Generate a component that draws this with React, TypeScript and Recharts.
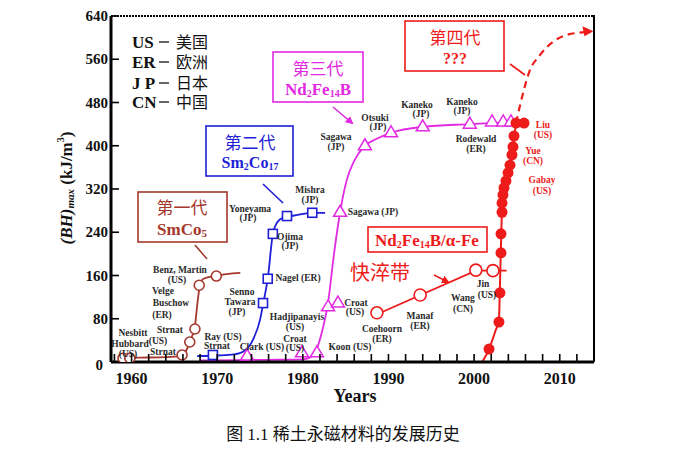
import { ComposedChart, Line, Scatter, XAxis, YAxis } from 'recharts';

// ---- data (year, (BH)max kJ/m3) ----
const smco5MarkYears = [1959.0, 1959.8, 1965.9, 1966.8, 1967.4, 1967.9, 1969.9];
const smco5MarkValues = [7, 7, 13, 37, 61, 142, 159];
const smco5CurveYears = [1958.6, 1961, 1964, 1965.9, 1966.5, 1967.0, 1967.4, 1967.7, 1968.0, 1968.4, 1969.9, 1972.7];
const smco5CurveValues = [7, 8, 9, 12, 25, 45, 66, 110, 143, 154, 160, 165];

const sm2co17MarkYears = [1969.5, 1975.35, 1975.9, 1976.5, 1978.15, 1981.1];
const sm2co17MarkValues = [13, 109, 154, 237, 270, 276];
const sm2co17CurveYears = [1967.65, 1970, 1972, 1973.3, 1974.2, 1975.0, 1975.4, 1975.9, 1976.5, 1977.0, 1977.7, 1979, 1981.1, 1982.6];
const sm2co17CurveValues = [11, 12, 14, 22, 42, 78, 110, 154, 237, 258, 267, 271, 276, 276];

const ndfebMarkYears = [1973.5, 1979.9, 1981.65, 1982.95, 1984.1, 1984.35, 1987.25, 1990.3, 1994.0, 1999.5, 2002.1, 2003.4, 2004.3];
const ndfebMarkValues = [11, 17, 17, 102, 109, 277, 400, 424, 435, 440, 444, 444, 444];
const ndfebCurveYears = [1968, 1976, 1980, 1980.8, 1981.65, 1982.3, 1982.95, 1983.6, 1984.35, 1985.1, 1986, 1987.25, 1988.5, 1990.3, 1994, 1999.5, 2004.5];
const ndfebCurveValues = [3, 4, 5, 8, 25, 60, 110, 195, 277, 335, 372, 400, 412, 424, 435, 440, 444];

const ribbonMarkYears = [1988.65, 1993.7, 2000.2, 2002.2];
const ribbonMarkValues = [91, 124, 170, 169];
const ribbonLineYears = [1988.2, 2000.2, 2003.8];
const ribbonLineValues = [85, 169, 169];

const bulkDotYears = [2001.74, 2002.9, 2003.02, 2003.14, 2003.14, 2003.26, 2003.26, 2003.37, 2003.49, 2003.72, 2003.96, 2004.19, 2004.42, 2004.54, 2004.66, 2004.89, 2005.83];
const bulkDotValues = [24, 74, 128, 202, 237, 277, 294, 309, 322, 335, 350, 364, 383, 398, 418, 442, 442];
const bulkCurveYears = [2000.95, 2001.74, 2002.5, 2002.9, 2003.0, 2003.12, 2003.25, 2003.4, 2003.72, 2004.19, 2004.55, 2004.89];
const bulkCurveValues = [0, 24, 58, 78, 130, 205, 280, 312, 335, 364, 398, 442];

const futureYears = [2004.89, 2005.6, 2006.4, 2007.7, 2009.2, 2010.8, 2013.0];
const futureValues = [442, 490, 535, 568, 592, 605, 610];

const xTicks = [1958, 1960, 1962, 1964, 1966, 1968, 1970, 1972, 1974, 1976, 1978, 1980, 1982, 1984, 1986, 1988, 1990, 1992, 1994, 1996, 1998, 2000, 2002, 2004, 2006, 2008, 2010, 2012];
const yTicks = [0, 80, 160, 240, 320, 400, 480, 560, 640];

const zip = (xs: number[], ys: number[]) => xs.map((x, i) => ({ x, y: ys[i] }));

const BROWN = '#a5382c';
const BLUE = '#1f1fd6';
const MAGENTA = '#e22ae2';
const RED = '#ee1b1b';
const SERIF = '"Liberation Serif", "Times New Roman", serif';
const CJK = '"Liberation Serif", "Noto Sans CJK SC", serif';

// point labels (pixel positions in the picture)
const blackLabels: [string, number, number][] = [
  ['Nesbitt', 133, 333], ['Hubbard', 130, 344], ['(US)', 158, 341], ['(US)', 128, 354],
  ['Strnat', 170, 330], ['Strnat', 163, 352],
  ['Velge', 163, 291], ['Buschow', 171, 303], ['(ER)', 162, 315],
  ['Benz, Martin', 180, 270], ['(US)', 177, 280],
  ['Ray (US)', 223, 337], ['Strnat', 217, 346],
  ['Senno', 242, 292], ['Tawara', 240, 302], ['(JP)', 237, 312],
  ['Clark (US)', 262, 347],
  ['Yoneyama', 250, 209], ['(JP)', 248, 218],
  ['Ojima', 290, 237], ['(JP)', 290, 246],
  ['Nagel (ER)', 298, 278],
  ['Hadjipanayis', 297, 317], ['(US)', 295, 327], ['Croat', 295, 339], ['(US)', 295, 348],
  ['Mishra', 310, 190], ['(JP)', 310, 200],
  ['Sagawa (JP)', 373, 212],
  ['Croat', 356, 303], ['(US)', 355, 312],
  ['Koon (US)', 350, 347],
  ['Coehoorn', 382, 329], ['(ER)', 382, 339],
  ['Manaf', 420, 316], ['(ER)', 420, 326],
  ['Wang', 463, 298], ['(CN)', 463, 309],
  ['Jin', 483, 284], ['(US)', 487, 295],
  ['Sagawa', 336, 137], ['(JP)', 336, 147],
  ['Otsuki', 375, 118], ['(JP)', 378, 127],
  ['Kaneko', 417, 105], ['(JP)', 421, 114],
  ['Kaneko', 462, 102], ['(JP)', 462, 111],
  ['Rodewald', 476, 139], ['(ER)', 476, 149],
];
const redLabels: [string, number, number][] = [
  ['Liu', 543, 125], ['(US)', 543, 135],
  ['Yue', 533, 151], ['(CN)', 533, 161],
  ['Gabay', 542, 180], ['(US)', 542, 191],
];
const countryCodes = [['US', '美国'], ['ER', '欧洲'], ['J P', '日本'], ['CN', '中国']];

const XTick = (p: any) => (
  <g>
    <line x1={p.x} x2={p.x} y1={p.y} y2={p.y - 8} stroke="#000" strokeWidth={1.6} />
    {p.payload.value % 10 === 0 && (
      <text x={p.x} y={p.y + 22} textAnchor="middle" fontFamily={SERIF} fontWeight="bold" fontSize={16} fill="#111">
        {p.payload.value}
      </text>
    )}
  </g>
);

const YTick = (p: any) => (
  <g>
    {p.payload.value !== 0 && <line x1={p.x} x2={p.x + 8} y1={p.y} y2={p.y} stroke="#000" strokeWidth={1.6} />}
    <text x={p.payload.value === 0 ? p.x - 8 : p.x - 3} y={p.y + (p.payload.value === 0 ? 3 : 0)} textAnchor="end" dominantBaseline="central" fontFamily={SERIF} fontWeight="bold" fontSize={15} fill="#111">
      {p.payload.value}
    </text>
  </g>
);

const OpenCircle = (color: string, r: number) => (p: any) => (
  <circle cx={p.cx} cy={p.cy} r={r} fill="#fff" stroke={color} strokeWidth={1.6} />
);
const OpenSquare = (p: any) => (
  <rect x={p.cx - 4.5} y={p.cy - 4.5} width={9} height={9} fill="#fff" stroke={BLUE} strokeWidth={1.6} />
);
const OpenTriangle = (p: any) => (
  <polygon points={`${p.cx},${p.cy - 7} ${p.cx + 6.5},${p.cy + 4} ${p.cx - 6.5},${p.cy + 4}`} fill="#fff" stroke={MAGENTA} strokeWidth={1.5} />
);
const FilledDot = (p: any) => <circle cx={p.cx} cy={p.cy} r={5.5} fill={RED} />;
const ArrowHead = (p: any) => (
  <polygon points={`${p.cx + 8},${p.cy - 1} ${p.cx - 3},${p.cy - 6} ${p.cx - 1},${p.cy + 4}`} fill={RED} />
);

export default function App() {
  return (
    <div style={{ position: 'absolute', left: 0, top: 0, width: 698, height: 457, background: '#fff' }}>
      <ComposedChart width={698} height={457} margin={{ top: 16, right: 104, bottom: 65, left: 51 }}>
        <XAxis
          type="number"
          dataKey="x"
          domain={[1957.6, 2014]}
          allowDataOverflow
          ticks={xTicks}
          interval={0}
          tickSize={0}
          tickMargin={0}
          tickLine={false}
          tick={XTick}
          axisLine={{ stroke: '#000', strokeWidth: 3 }}
        />
        <YAxis
          type="number"
          dataKey="y"
          domain={[0, 640]}
          allowDataOverflow
          ticks={yTicks}
          interval={0}
          tickSize={0}
          tickMargin={0}
          tickLine={false}
          tick={YTick}
          axisLine={{ stroke: '#000', strokeWidth: 3 }}
        />
        <Line data={zip(smco5CurveYears, smco5CurveValues)} dataKey="y" type="monotone" stroke={BROWN} strokeWidth={1.8} dot={false} isAnimationActive={false} />
        <Line data={zip(sm2co17CurveYears, sm2co17CurveValues)} dataKey="y" type="monotone" stroke={BLUE} strokeWidth={1.8} dot={false} isAnimationActive={false} />
        <Line data={zip(ndfebCurveYears, ndfebCurveValues)} dataKey="y" type="monotone" stroke={MAGENTA} strokeWidth={1.8} dot={false} isAnimationActive={false} />
        <Line data={zip(ribbonLineYears, ribbonLineValues)} dataKey="y" type="linear" stroke={RED} strokeWidth={1.8} dot={false} isAnimationActive={false} />
        <Line data={zip(bulkCurveYears, bulkCurveValues)} dataKey="y" type="monotone" stroke={RED} strokeWidth={2} dot={false} isAnimationActive={false} />
        <Line data={zip(futureYears, futureValues)} dataKey="y" type="monotone" stroke={RED} strokeWidth={2.2} strokeDasharray="7 5" dot={false} isAnimationActive={false} />
        <Scatter data={zip(smco5MarkYears, smco5MarkValues)} dataKey="y" shape={OpenCircle(BROWN, 5)} isAnimationActive={false} />
        <Scatter data={zip(sm2co17MarkYears, sm2co17MarkValues)} dataKey="y" shape={OpenSquare} isAnimationActive={false} />
        <Scatter data={zip(ndfebMarkYears, ndfebMarkValues)} dataKey="y" shape={OpenTriangle} isAnimationActive={false} />
        <Scatter data={zip(ribbonMarkYears, ribbonMarkValues)} dataKey="y" shape={OpenCircle(RED, 6)} isAnimationActive={false} />
        <Scatter data={zip(bulkDotYears, bulkDotValues)} dataKey="y" shape={FilledDot} isAnimationActive={false} />
        <Scatter data={[{ x: futureYears[futureYears.length - 1], y: futureValues[futureValues.length - 1] }]} dataKey="y" shape={ArrowHead} isAnimationActive={false} />
      </ComposedChart>

      <svg width={698} height={457} style={{ position: 'absolute', left: 0, top: 0, pointerEvents: 'none' }}>
        <defs>
          <marker id="arrM" markerWidth="8" markerHeight="8" refX="6" refY="4" orient="auto" markerUnits="userSpaceOnUse">
            <path d="M0,0 L8,4 L0,8 z" fill={MAGENTA} />
          </marker>
          <marker id="arrR" markerWidth="8" markerHeight="8" refX="6" refY="4" orient="auto" markerUnits="userSpaceOnUse">
            <path d="M0,0 L8,4 L0,8 z" fill={RED} />
          </marker>
        </defs>

        {/* frame */}
        <line x1={111} x2={594} y1={16} y2={16} stroke="#000" strokeWidth={2} strokeDasharray="2 1" />
        <line x1={594} x2={594} y1={15} y2={362} stroke="#000" strokeWidth={2} />

        {/* country legend */}
        {countryCodes.map(([code, name], i) => {
          const y = [42, 62, 83, 102][i];
          return (
            <g key={code}>
              <text x={132} y={y} dominantBaseline="central" fontFamily={SERIF} fontWeight="bold" fontSize={17} fill="#111">{code}</text>
              <line x1={159} x2={169} y1={y} y2={y} stroke="#111" strokeWidth={1.3} />
              <text x={176} y={y} dominantBaseline="central" fontFamily={CJK} fontSize={16} fill="#111">{name}</text>
            </g>
          );
        })}

        {/* generation boxes */}
        <rect x={138} y={192} width={89} height={50} fill="#fff" stroke={BROWN} strokeWidth={1.6} />
        <text x={182} y={208} textAnchor="middle" dominantBaseline="central" fontFamily={CJK} fontSize={17} fill={BROWN}>第一代</text>
        <text x={182} y={229} textAnchor="middle" dominantBaseline="central" fontFamily={SERIF} fontWeight="bold" fontSize={17} fill={BROWN}>
          <tspan>SmCo</tspan>
          <tspan dy={4} fontSize={11}>5</tspan>
        </text>
        <line x1={195} y1={245} x2={207} y2={259} stroke={BROWN} strokeWidth={1.6} />

        <rect x={206} y={126} width={87} height={50} fill="#fff" stroke={BLUE} strokeWidth={1.6} />
        <text x={250} y={143} textAnchor="middle" dominantBaseline="central" fontFamily={CJK} fontSize={17} fill={BLUE}>第二代</text>
        <text x={250} y={162} textAnchor="middle" dominantBaseline="central" fontFamily={SERIF} fontWeight="bold" fontSize={16} fill={BLUE}>
          <tspan>Sm</tspan>
          <tspan dy={4} fontSize={10}>2</tspan>
          <tspan dy={-4}>Co</tspan>
          <tspan dy={4} fontSize={10}>17</tspan>
        </text>
        <line x1={263} y1={184} x2={283} y2={203} stroke={BLUE} strokeWidth={1.6} />

        <rect x={273} y={52} width={90} height={50} fill="#fff" stroke={MAGENTA} strokeWidth={1.6} />
        <text x={318} y={69} textAnchor="middle" dominantBaseline="central" fontFamily={CJK} fontSize={17} fill={MAGENTA}>第三代</text>
        <text x={318} y={89} textAnchor="middle" dominantBaseline="central" fontFamily={SERIF} fontWeight="bold" fontSize={17} fill={MAGENTA}>
          <tspan>Nd</tspan>
          <tspan dy={4} fontSize={10}>2</tspan>
          <tspan dy={-4}>Fe</tspan>
          <tspan dy={4} fontSize={10}>14</tspan>
          <tspan dy={-4}>B</tspan>
        </text>
        <line x1={333} y1={107} x2={352} y2={123} stroke={MAGENTA} strokeWidth={1.6} markerEnd="url(#arrM)" />

        <rect x={405} y={21} width={99} height={50} fill="#fff" stroke={RED} strokeWidth={1.6} />
        <text x={455} y={38} textAnchor="middle" dominantBaseline="central" fontFamily={CJK} fontSize={17} fill={RED}>第四代</text>
        <text x={455} y={58} textAnchor="middle" dominantBaseline="central" fontFamily={SERIF} fontWeight="bold" fontSize={16} fill={RED}>???</text>
        <line x1={510} y1={64} x2={525} y2={75} stroke={RED} strokeWidth={1.6} />

        <rect x={368} y={227} width={119} height={25} fill="#fff" stroke={RED} strokeWidth={1.6} />
        <text x={427} y={240} textAnchor="middle" dominantBaseline="central" fontFamily={SERIF} fontWeight="bold" fontSize={17} fill={RED}>
          <tspan>Nd</tspan>
          <tspan dy={4} fontSize={10}>2</tspan>
          <tspan dy={-4}>Fe</tspan>
          <tspan dy={4} fontSize={10}>14</tspan>
          <tspan dy={-4}>B/α-Fe</tspan>
        </text>
        <text x={380} y={273} textAnchor="middle" dominantBaseline="central" fontFamily={CJK} fontSize={20} fill={RED}>快淬带</text>
        <line x1={434} y1={275} x2={448} y2={282} stroke={RED} strokeWidth={1.4} markerEnd="url(#arrR)" />

        {/* point labels */}
        {blackLabels.map(([t, x, y], i) => (
          <text key={'b' + i} x={x} y={y} textAnchor="middle" dominantBaseline="central" fontFamily={SERIF} fontWeight="bold" fontSize={9.5} fill="#2a2a2a">{t}</text>
        ))}
        {redLabels.map(([t, x, y], i) => (
          <text key={'r' + i} x={x} y={y} textAnchor="middle" dominantBaseline="central" fontFamily={SERIF} fontWeight="bold" fontSize={9.5} fill={RED}>{t}</text>
        ))}

        {/* axis titles */}
        <text x={355} y={396} textAnchor="middle" dominantBaseline="central" fontFamily={SERIF} fontWeight="bold" fontSize={18} fill="#111">Years</text>
        <text x={66} y={188} transform="rotate(-90 66 188)" textAnchor="middle" dominantBaseline="central" fontFamily={SERIF} fontWeight="bold" fontSize={17} fill="#111">
          <tspan fontStyle="italic">(BH)</tspan>
          <tspan dy={4} fontSize={11} fontStyle="italic">max</tspan>
          <tspan dy={-4}> (kJ/m</tspan>
          <tspan dy={-6} fontSize={10}>3</tspan>
          <tspan dy={6}>)</tspan>
        </text>

        {/* caption */}
        <text x={343} y={434} textAnchor="middle" dominantBaseline="central" fontFamily={CJK} fontSize={17} fill="#111">图 1.1  稀土永磁材料的发展历史</text>
      </svg>
    </div>
  );
}
